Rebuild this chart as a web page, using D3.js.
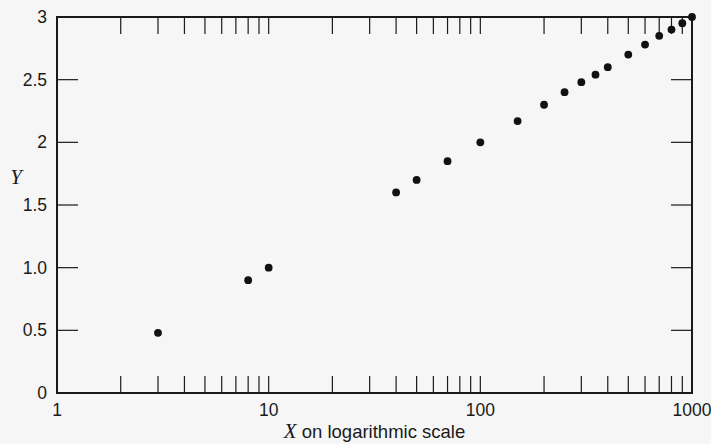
<!DOCTYPE html>
<html>
<head>
<meta charset="utf-8">
<script src="https://cdn.jsdelivr.net/npm/d3@7"></script>
<style>
  body { margin: 0; background: #f6f6f6; }
  svg text { font-family: "Liberation Sans", Arial, sans-serif; fill: #1a1a1a; }
  .frame line, .frame path { stroke: #1a1a1a; }
</style>
</head>
<body>
<svg id="chart" width="711" height="444"></svg>
<script>
// data
const xValues = [3, 8, 10, 40, 50, 70, 100, 150, 200, 250, 300, 350, 400, 500, 600, 700, 800, 900, 1000];
const yValues = [0.48, 0.90, 1.0, 1.60, 1.70, 1.85, 2.0, 2.17, 2.30, 2.40, 2.48, 2.54, 2.60, 2.70, 2.78, 2.85, 2.90, 2.95, 3.0];
const xTickLabels = [1, 10, 100, 1000];
const yTickValues = [0, 0.5, 1.0, 1.5, 2, 2.5, 3];
const yTickLabels = ["0", "0.5", "1.0", "1.5", "2", "2.5", "3"];

const points = xValues.map((x, i) => ({ x: x, y: yValues[i] }));

const svg = d3.select("#chart");
const margin = { top: 17, right: 19, bottom: 51, left: 57 };
const width = 711 - margin.left - margin.right,
      height = 444 - margin.top - margin.bottom;

const x = d3.scaleLog().domain([1, 1000]).range([0, width]),
      y = d3.scaleLinear().domain([0, 3]).range([height, 0]);

const g = svg.append("g")
    .attr("transform", `translate(${margin.left}, ${margin.top})`);

// minor ticks: 2..10 in every decade
const minorTicks = x.ticks().filter(d => d > 1 && d < 1000);

const frame = g.append("g").classed("frame", true);

frame.append("rect")
    .attr("width", width)
    .attr("height", height)
    .attr("fill", "none")
    .attr("stroke", "#1a1a1a")
    .attr("stroke-width", 2);

// bottom ticks pointing up, top ticks pointing down
frame.selectAll("line.xtick-bottom")
    .data(minorTicks)
    .enter()
    .append("line")
    .classed("xtick-bottom", true)
    .attr("x1", d => x(d)).attr("x2", d => x(d))
    .attr("y1", height).attr("y2", height - 17)
    .attr("stroke-width", 1.2);

frame.selectAll("line.xtick-top")
    .data(minorTicks)
    .enter()
    .append("line")
    .classed("xtick-top", true)
    .attr("x1", d => x(d)).attr("x2", d => x(d))
    .attr("y1", 0).attr("y2", 17)
    .attr("stroke-width", 1.2);

// y ticks on both sides, pointing in
const yInner = yTickValues.filter(d => d > 0 && d < 3);
frame.selectAll("line.ytick-left")
    .data(yInner)
    .enter()
    .append("line")
    .classed("ytick-left", true)
    .attr("x1", 0).attr("x2", 21)
    .attr("y1", d => y(d)).attr("y2", d => y(d))
    .attr("stroke-width", 1.2);

frame.selectAll("line.ytick-right")
    .data(yInner)
    .enter()
    .append("line")
    .classed("ytick-right", true)
    .attr("x1", width).attr("x2", width - 21)
    .attr("y1", d => y(d)).attr("y2", d => y(d))
    .attr("stroke-width", 1.2);

// tick labels
g.selectAll("text.xlabel")
    .data(xTickLabels)
    .enter()
    .append("text")
    .classed("xlabel", true)
    .attr("x", d => x(d))
    .attr("y", height + 23)
    .style("text-anchor", "middle")
    .style("font-size", "17.5px")
    .text(d => d);

g.selectAll("text.ylabel")
    .data(yTickValues)
    .enter()
    .append("text")
    .classed("ylabel", true)
    .attr("x", -10)
    .attr("y", d => y(d) + 6)
    .style("text-anchor", "end")
    .style("font-size", "17.5px")
    .text((d, i) => yTickLabels[i]);

// axis titles
g.append("text")
    .attr("x", -margin.left + 16)
    .attr("y", y(1.75) + 10)
    .style("text-anchor", "middle")
    .style("font-family", "'Liberation Serif', serif")
    .style("font-style", "italic")
    .style("font-size", "21px")
    .text("Y");

const xTitle = g.append("text")
    .attr("x", width / 2)
    .attr("y", height + 45)
    .style("text-anchor", "middle")
    .style("font-size", "18.5px");
xTitle.append("tspan")
    .style("font-family", "'Liberation Serif', serif")
    .style("font-style", "italic")
    .style("font-size", "21px")
    .text("X");
xTitle.append("tspan").text(" on logarithmic scale");

// points
g.selectAll("circle.pt")
    .data(points)
    .enter()
    .append("circle")
    .classed("pt", true)
    .attr("cx", d => x(d.x))
    .attr("cy", d => y(d.y))
    .attr("r", 3.9)
    .attr("fill", "#111");
</script>
</body>
</html>
